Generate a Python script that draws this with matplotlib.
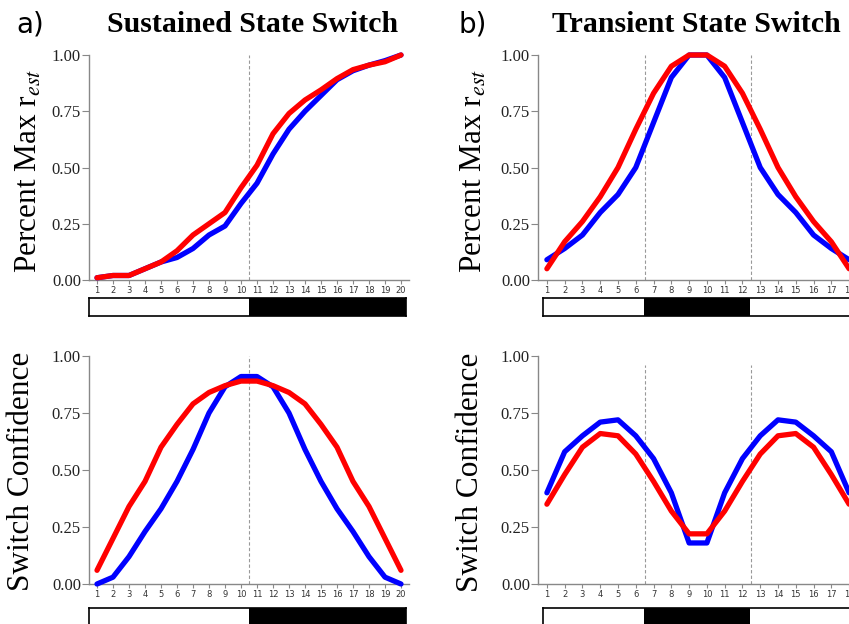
import numpy as np
import matplotlib
matplotlib.use('Agg')
import matplotlib.pyplot as plt

plt.rcParams['mathtext.fontset'] = 'stix'

# Sustained state switch (20 time steps)
sus_x = np.arange(1, 21)
sus_rest_blue = [0.01, 0.02, 0.02, 0.05, 0.08, 0.10, 0.14, 0.20, 0.24, 0.34,
                 0.43, 0.56, 0.67, 0.75, 0.82, 0.89, 0.93, 0.955, 0.975, 1.00]
sus_rest_red = [0.01, 0.02, 0.02, 0.05, 0.08, 0.13, 0.20, 0.25, 0.30, 0.41,
                0.51, 0.65, 0.74, 0.80, 0.845, 0.895, 0.935, 0.955, 0.97, 1.00]
sus_conf_blue = [0.00, 0.03, 0.12, 0.23, 0.33, 0.45, 0.59, 0.75, 0.865, 0.91,
                 0.91, 0.865, 0.75, 0.59, 0.45, 0.33, 0.23, 0.12, 0.03, 0.00]
sus_conf_red = [0.06, 0.20, 0.34, 0.45, 0.60, 0.70, 0.79, 0.84, 0.87, 0.89,
                0.89, 0.87, 0.84, 0.79, 0.70, 0.60, 0.45, 0.34, 0.20, 0.06]
sus_switch = [10.5]
sus_black = [(10.5, 20.5)]

# Transient state switch (18 time steps)
tr_x = np.arange(1, 19)
tr_rest_blue = [0.09, 0.14, 0.20, 0.30, 0.38, 0.50, 0.70, 0.90, 1.00,
                1.00, 0.90, 0.70, 0.50, 0.38, 0.30, 0.20, 0.14, 0.09]
tr_rest_red = [0.05, 0.17, 0.26, 0.37, 0.50, 0.67, 0.83, 0.95, 1.00,
               1.00, 0.95, 0.83, 0.67, 0.50, 0.37, 0.26, 0.17, 0.05]
tr_conf_blue = [0.40, 0.58, 0.65, 0.71, 0.72, 0.65, 0.55, 0.40, 0.18,
                0.18, 0.40, 0.55, 0.65, 0.72, 0.71, 0.65, 0.58, 0.40]
tr_conf_red = [0.35, 0.48, 0.60, 0.66, 0.65, 0.57, 0.45, 0.32, 0.22,
               0.22, 0.32, 0.45, 0.57, 0.65, 0.66, 0.60, 0.48, 0.35]
tr_switch = [6.5, 12.5]
tr_black = [(6.45, 12.4)]

yticks = [0, 0.25, 0.5, 0.75, 1.0]
W, H = 849, 624
fig = plt.figure(figsize=(W / 100, H / 100), dpi=100)


def px_axes(left, top, right, bottom):
    return fig.add_axes([left / W, 1 - bottom / H, (right - left) / W, (bottom - top) / H])


def draw_panel(ax, x, blue, red, switches, n, vtop=1.0):
    ax.plot(x, blue, color='#0000ff', lw=3.8, solid_capstyle='round', clip_on=False, zorder=3)
    ax.plot(x, red, color='#ff0000', lw=3.8, solid_capstyle='round', clip_on=False, zorder=4)
    for s in switches:
        ax.plot([s, s], [0, vtop], color='#999999', lw=0.8, ls=(0, (3, 2)), zorder=2)
    ax.set_xlim(0.5, n + 0.5)
    ax.set_ylim(0, 1)
    ax.set_xticks(x)
    ax.set_xticklabels([str(i) for i in x], fontsize=6, family='DejaVu Sans', color='#333333')
    ax.set_yticks(yticks)
    ax.set_yticklabels(['0.00', '0.25', '0.50', '0.75', '1.00'], fontsize=12,
                       family='Liberation Serif', color='#222222')
    ax.tick_params(axis='y', length=5, width=0.8, color='#888888', pad=0.8)
    ax.tick_params(axis='x', length=3, width=0.8, color='#888888', pad=1.5)
    for side in ['top', 'right']:
        ax.spines[side].set_visible(False)
    for side in ['left', 'bottom']:
        ax.spines[side].set_color('#888888')
        ax.spines[side].set_linewidth(1.0)


def draw_bar(ax, spans, lo, hi):
    # lo/hi: data x at the bar's left and right edges (same scale as the plot above)
    ax.set_xlim(lo, hi)
    ax.set_ylim(0, 1)
    for a, b in spans:
        ax.axvspan(a, b, color='black', lw=0)
    ax.set_xticks([])
    ax.set_yticks([])
    for sp in ax.spines.values():
        sp.set_linewidth(1.2)
        sp.set_color('black')


# panel a
ax1 = px_axes(89, 55, 409, 280)
draw_panel(ax1, sus_x, sus_rest_blue, sus_rest_red, sus_switch, 20)
bar1 = px_axes(89, 298, 406, 316)
draw_bar(bar1, sus_black, 0.5, 20.31)

ax3 = px_axes(89, 356, 409, 584)
draw_panel(ax3, sus_x, sus_conf_blue, sus_conf_red, sus_switch, 20)
bar3 = px_axes(89, 608, 406, 626)
draw_bar(bar3, sus_black, 0.5, 20.31)

# panel b
ax2 = px_axes(538, 55, 858, 280)
draw_panel(ax2, tr_x, tr_rest_blue, tr_rest_red, tr_switch, 18)
bar2 = px_axes(543, 298, 860, 316)
draw_bar(bar2, tr_black, 0.78, 18.61)

ax4 = px_axes(538, 356, 858, 584)
draw_panel(ax4, tr_x, tr_conf_blue, tr_conf_red, tr_switch, 18, vtop=0.96)
bar4 = px_axes(543, 608, 860, 626)
draw_bar(bar4, tr_black, 0.78, 18.61)

# titles and labels
fig.text(253 / W, 1 - 25 / H, 'Sustained State Switch', ha='center', va='center',
         fontsize=21.5, fontweight='bold', family='Liberation Serif')
fig.text(696 / W, 1 - 25 / H, 'Transient State Switch', ha='center', va='center',
         fontsize=21.5, fontweight='bold', family='Liberation Serif')
fig.text(30 / W, 1 - 25 / H, 'a)', ha='center', va='center', fontsize=20, family='DejaVu Sans')
fig.text(473 / W, 1 - 25 / H, 'b)', ha='center', va='center', fontsize=20, family='DejaVu Sans')

ylab = 'Percent Max r$_{\\mathit{est}}$'
fig.text(29 / W, 1 - 171 / H, ylab, rotation=90, ha='center', va='center',
         fontsize=22.5, family='Liberation Serif')
fig.text(474 / W, 1 - 171 / H, ylab, rotation=90, ha='center', va='center',
         fontsize=22.5, family='Liberation Serif')
fig.text(22 / W, 1 - 471 / H, 'Switch Confidence', rotation=90, ha='center', va='center',
         fontsize=22.5, family='Liberation Serif')
fig.text(471 / W, 1 - 472 / H, 'Switch Confidence', rotation=90, ha='center', va='center',
         fontsize=22.5, family='Liberation Serif')

fig.savefig('out.png', dpi=100)
